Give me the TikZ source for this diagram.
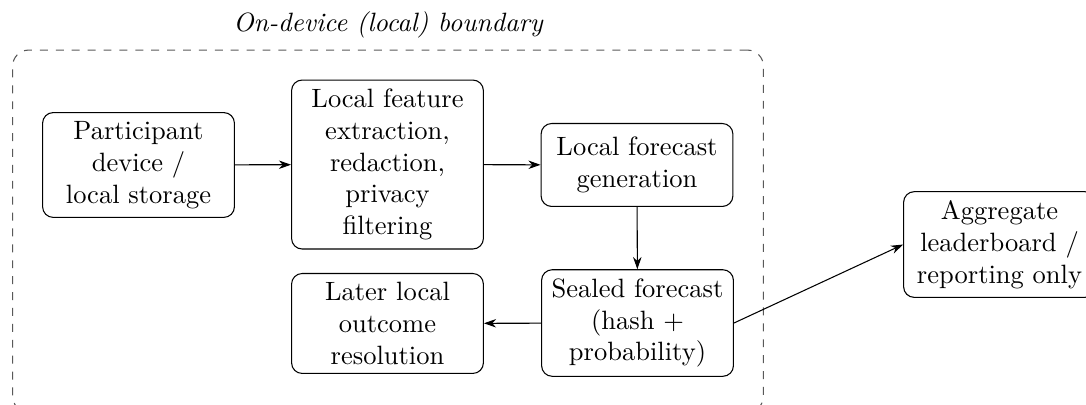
\documentclass[tikz,border=0pt]{standalone}
\usetikzlibrary{arrows.meta,fit}
\begin{document}
\begin{tikzpicture}[
  box/.style={draw, rounded corners=4pt, text width=2.31cm, align=center, minimum height=1.1cm, inner sep=3.33pt},
  arr/.style={-{Stealth[length=4.6pt,width=3.2pt]}},
  boundary/.style={draw=black!65, dashed, rounded corners=6pt, inner sep=0.39cm},
  title/.style={font=\itshape, anchor=base, inner sep=0pt}]
\clip (0,0) rectangle (14.403,-5.358);
\node[box] (part) at (1.837,-2.188) {Participant\\ device /\\ local storage};
\node[box] (feat) at (5.139,-2.182) {Local feature\\ extraction,\\ redaction,\\ privacy\\ filtering};
\node[box] (fore) at (8.448,-2.188) {Local forecast\\ generation};
\node[box] (seal) at (8.455,-4.284) {Sealed forecast\\ (hash +\\ probability)};
\node[box] (later) at (5.139,-4.290) {Later local\\ outcome\\ resolution};
\node[box] (agg) at (13.256,-3.243) {Aggregate\\ leaderboard /\\ reporting only};
\coordinate (lowpt) at ([yshift=-0.08cm]seal.south);
\node[boundary, fit=(part)(feat)(fore)(seal)(later)(lowpt)] (bnd) {};
\node[title] (ttl) at ([yshift=6.8pt]bnd.north) {On-device (local) boundary};
\draw[arr] (part) -- (feat);
\draw[arr] (feat) -- (fore);
\draw[arr] (fore) -- (seal);
\draw[arr] (seal) -- (later);
\draw[arr] (seal.east) -- (agg.west);
\end{tikzpicture}
\end{document}
